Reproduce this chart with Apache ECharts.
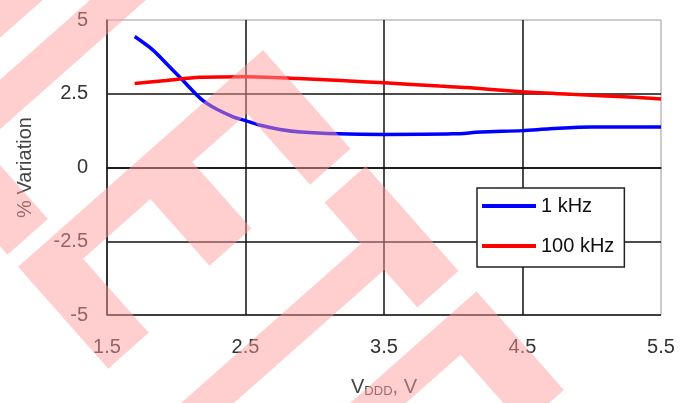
<!DOCTYPE html>
<html>
<head>
<meta charset="utf-8">
<script src="https://cdn.jsdelivr.net/npm/echarts@6/dist/echarts.min.js"></script>
<style>
html,body{margin:0;padding:0;background:#fff;}
#chart{width:694px;height:403px;}
</style>
</head>
<body>
<div id="chart"></div>
<script>
// ---- data ----
const X_MIN = 1.5, X_MAX = 5.5, X_STEP = 1;
const Y_MIN = -5, Y_MAX = 5, Y_STEP = 2.5;
const xTickLabels = ['1.5', '2.5', '3.5', '4.5', '5.5'];
const yTickLabels = ['-5', '-2.5', '0', '2.5', '5'];
const seriesNames = ['1 kHz', '100 kHz'];

const khz1_x = [1.70, 1.83, 1.93, 2.04, 2.18, 2.29, 2.41, 2.50, 2.60, 2.75, 2.90, 3.17, 3.50, 4.00, 4.20, 4.50, 4.70, 5.00, 5.50];
const khz1_y = [4.44, 3.99, 3.52, 2.99, 2.32, 1.98, 1.72, 1.59, 1.44, 1.29, 1.20, 1.14, 1.12, 1.14, 1.20, 1.25, 1.31, 1.37, 1.37];

const khz100_x = [1.70, 1.93, 2.17, 2.50, 2.88, 3.19, 3.50, 3.90, 4.10, 4.50, 4.86, 5.27, 5.50];
const khz100_y = [2.85, 2.95, 3.06, 3.08, 3.02, 2.95, 2.87, 2.76, 2.71, 2.57, 2.48, 2.39, 2.32];

// ---- watermark ("OBSOLETE" rotated) geometry, decorative only ----
const wmOrigin = [263, 50];
const wmU = [-0.749, 0.663];   // letter "down" direction
const wmV = [0.663, 0.749];    // letter "right" direction
const letterE = [[0,0],[0,132],[54,132],[54,37],[127,37],[127,126],[183,126],[183,37],[273,37],[273,136],[327,136],[327,0]];
const letterT = [[0,0],[0,140],[55,140],[55,90],[327,90],[327,55],[55,55],[55,0]];
const letterL = [[0,0],[0,37],[273,37],[273,136],[327,136],[327,0]];
const letterOStroke = [[0,-37],[0,0],[327,0],[327,-37]];
const wmLetters = [[letterOStroke, -183.4], [letterL, -152], [letterE, 0], [letterT, 155], [letterE, 322]];

function wmPoly(shape, off) {
  return shape.map(([a, b]) => [
    wmOrigin[0] + a * wmU[0] + (b + off) * wmV[0],
    wmOrigin[1] + a * wmU[1] + (b + off) * wmV[1]
  ]);
}

const wmElements = wmLetters.map(([shape, off]) => ({
  type: 'polygon',
  silent: true,
  z: 100,
  shape: { points: wmPoly(shape, off) },
  style: { fill: 'rgba(255,155,155,0.48)' }
}));

const FONT = '"Liberation Sans", Arial, sans-serif';

const chart = echarts.init(document.getElementById('chart'));
chart.setOption({
  animation: false,
  backgroundColor: '#fff',
  grid: {
    left: 107, right: 33, top: 20, bottom: 85,
    show: true, borderColor: '#999', borderWidth: 1, backgroundColor: 'transparent'
  },
  xAxis: {
    type: 'value',
    min: 0, max: X_MAX - X_MIN, interval: X_STEP,
    axisLine: { show: true, lineStyle: { color: '#111', width: 1.5 } },
    axisTick: { show: false },
    splitLine: { show: true, showMaxLine: false, lineStyle: { color: '#111', width: 1.5 } },
    axisLabel: {
      color: '#333', fontSize: 20, margin: 22, fontFamily: FONT,
      formatter: v => xTickLabels[Math.round(v / X_STEP)]
    },
    name: '{a|V}{b|DDD}{a|, V}',
    nameLocation: 'middle',
    nameGap: 62,
    nameTextStyle: {
      rich: {
        a: { fontSize: 20, color: '#444', fontFamily: FONT },
        b: { fontSize: 13, color: '#444', fontFamily: FONT, padding: [8, 0, 0, 0] }
      }
    }
  },
  yAxis: {
    type: 'value',
    min: Y_MIN, max: Y_MAX, interval: Y_STEP,
    axisLine: { show: true, lineStyle: { color: '#333', width: 1.5 } },
    axisTick: { show: false },
    splitLine: { show: true, showMaxLine: false, lineStyle: { color: '#111', width: 1.5 } },
    axisLabel: {
      color: '#333', fontSize: 20, margin: 19, fontFamily: FONT,
      formatter: v => yTickLabels[Math.round((v - Y_MIN) / Y_STEP)]
    },
    name: '% Variation',
    nameLocation: 'middle',
    nameRotate: 90,
    nameGap: 72,
    nameTextStyle: { fontSize: 20, color: '#444', fontFamily: FONT }
  },
  legend: {
    data: seriesNames,
    orient: 'vertical',
    left: 477, top: 188,
    icon: 'rect',
    itemWidth: 54, itemHeight: 4, itemGap: 20,
    padding: [8, 10, 11, 5],
    borderColor: '#222', borderWidth: 1.5, borderRadius: 0,
    backgroundColor: '#fff',
    textStyle: { fontSize: 20, color: '#111', lineHeight: 20, fontFamily: FONT }
  },
  series: [
    {
      name: seriesNames[0], type: 'line', symbol: 'none', smooth: 0.3,
      color: '#0000ff',
      lineStyle: { color: '#0000ff', width: 3.5 },
      data: khz1_x.map((x, i) => [x - X_MIN, khz1_y[i]])
    },
    {
      name: seriesNames[1], type: 'line', symbol: 'none', smooth: 0.3,
      color: '#ff0000',
      lineStyle: { color: '#ff0000', width: 3.5 },
      data: khz100_x.map((x, i) => [x - X_MIN, khz100_y[i]])
    }
  ],
  graphic: { elements: wmElements }
});
</script>
</body>
</html>
